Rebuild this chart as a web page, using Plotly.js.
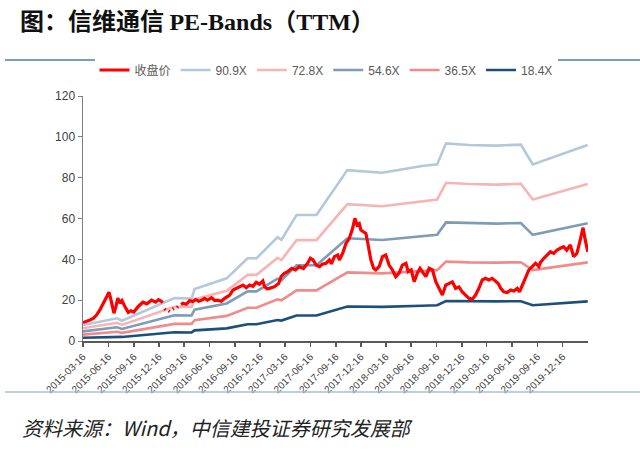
<!DOCTYPE html>
<html>
<head>
<meta charset="utf-8">
<script src="https://cdn.plot.ly/plotly-3.0.1.min.js"></script>
<style>
  html, body { margin: 0; padding: 0; background: #fff; }
  #chart { width: 640px; height: 458px; }
</style>
</head>
<body>
<div id="chart"></div>
<script>
"use strict";

// PE band breakpoints
var bandDates = ["2015-03-16", "2015-07-17", "2015-08-04", "2016-02-10", "2016-04-12", "2016-04-23",
    "2016-08-17", "2016-11-01", "2016-12-03", "2017-02-17", "2017-03-03", "2017-04-27", "2017-07-08",
    "2017-10-28", "2018-03-03", "2018-07-25", "2018-09-18", "2018-10-20", "2019-01-11", "2019-04-22",
    "2019-07-18", "2019-08-30", "2020-03-16"];
var band909 = [7.8, 11.1, 9.9, 21.0, 20.8, 25.5, 30.7, 40.5, 40.5, 50.8, 49.5, 61.7, 61.7,
    83.7, 82.4, 85.7, 86.5, 96.8, 96.0, 95.7, 96.2, 86.5, 96.0];
var band728 = [6.2, 8.9, 7.9, 16.8, 16.7, 20.4, 24.6, 32.4, 32.4, 40.7, 39.6, 49.4, 49.4,
    67.0, 66.0, 68.6, 69.3, 77.5, 76.9, 76.6, 77.0, 69.3, 76.9];
var band546 = [4.7, 6.7, 5.9, 12.6, 12.5, 15.3, 18.4, 24.3, 24.3, 30.5, 29.7, 37.1, 37.1,
    50.3, 49.5, 51.5, 52.0, 58.1, 57.7, 57.5, 57.8, 52.0, 57.7];
var band365 = [3.1, 4.5, 4.0, 8.4, 8.4, 10.2, 12.3, 16.3, 16.3, 20.4, 19.9, 24.8, 24.8,
    33.6, 33.1, 34.4, 34.7, 38.9, 38.5, 38.4, 38.6, 34.7, 38.5];
var band184 = [1.6, 2.2, 2.0, 4.3, 4.2, 5.2, 6.2, 8.2, 8.2, 10.3, 10.0, 12.5, 12.5,
    16.9, 16.7, 17.3, 17.5, 19.6, 19.4, 19.4, 19.5, 17.5, 19.4];

// closing price
var priceDates = ["2015-03-16", "2015-03-29", "2015-04-10", "2015-04-22", "2015-05-04", "2015-05-16",
    "2015-05-28", "2015-06-10", "2015-06-18", "2015-06-24", "2015-06-30", "2015-07-06", "2015-07-13",
    "2015-07-20", "2015-07-28", "2015-08-04", "2015-08-15", "2015-08-27", "2015-09-05", "2015-09-16",
    "2015-10-01", "2015-10-19", "2015-11-02", "2015-11-19", "2015-12-04", "2015-12-14", "2015-12-24",
    "2015-12-30", "2016-01-02", "2016-01-05", "2016-01-09", "2016-01-13", "2016-01-20", "2016-01-24",
    "2016-01-28", "2016-02-04", "2016-02-08", "2016-02-12", "2016-02-19", "2016-02-23", "2016-02-27",
    "2016-03-05", "2016-03-12", "2016-03-24", "2016-04-05", "2016-04-16", "2016-04-27", "2016-05-08",
    "2016-05-19", "2016-05-29", "2016-06-09", "2016-06-23", "2016-07-05", "2016-07-16", "2016-07-29",
    "2016-08-10", "2016-08-28", "2016-09-09", "2016-09-21", "2016-10-03", "2016-10-15", "2016-10-27",
    "2016-11-08", "2016-11-20", "2016-12-02", "2016-12-14", "2016-12-26", "2017-01-01", "2017-01-10",
    "2017-01-19", "2017-01-30", "2017-02-06", "2017-02-21", "2017-03-02", "2017-03-14", "2017-03-26",
    "2017-04-10", "2017-04-23", "2017-05-07", "2017-05-22", "2017-06-06", "2017-06-16", "2017-06-25",
    "2017-07-07", "2017-07-19", "2017-07-29", "2017-08-12", "2017-08-24", "2017-08-31", "2017-09-11",
    "2017-09-23", "2017-09-29", "2017-10-11", "2017-10-23", "2017-11-04", "2017-11-16", "2017-11-24",
    "2017-12-02", "2017-12-10", "2017-12-16", "2017-12-25", "2018-01-03", "2018-01-09", "2018-01-15",
    "2018-01-21", "2018-01-31", "2018-02-08", "2018-02-20", "2018-03-04", "2018-03-16", "2018-03-28",
    "2018-04-09", "2018-04-21", "2018-05-03", "2018-05-15", "2018-05-28", "2018-06-05", "2018-06-16",
    "2018-06-27", "2018-07-08", "2018-07-18", "2018-07-26", "2018-08-08", "2018-08-20", "2018-09-01",
    "2018-09-13", "2018-09-25", "2018-10-07", "2018-10-19", "2018-10-31", "2018-11-12", "2018-11-24",
    "2018-12-06", "2018-12-18", "2018-12-30", "2019-01-11", "2019-01-23", "2019-02-04", "2019-02-16",
    "2019-02-28", "2019-03-12", "2019-03-24", "2019-04-05", "2019-04-17", "2019-04-27", "2019-05-06",
    "2019-05-17", "2019-05-29", "2019-06-11", "2019-06-23", "2019-07-05", "2019-07-13", "2019-07-23",
    "2019-08-04", "2019-08-16", "2019-08-28", "2019-09-09", "2019-09-21", "2019-09-27", "2019-10-09",
    "2019-10-21", "2019-11-02", "2019-11-14", "2019-11-26", "2019-12-08", "2019-12-20", "2019-12-31",
    "2020-01-13", "2020-01-25", "2020-02-06", "2020-02-18", "2020-02-28", "2020-03-07", "2020-03-16"];
var priceValues = [9.0, 9.5, 10.3, 11.1, 12.7, 15.2,
    18.5, 21.7, 23.9, 20.9, 16.8, 13.6, 16.8,
    21.0, 18.5, 19.8, 16.8, 14.0, 14.8, 14.2,
    16.8, 19.0, 18.2, 20.0, 19.0, 20.2, 19.5,
    18.8, null, 15.8, 15.2, null, 14.8, 14.4,
    null, 15.6, 16.0, null, 16.4, 16.9, null,
    17.8, 18.5, 18.0, 19.8, 19.3, 20.3, 19.5,
    20.0, 20.9, 20.0, 21.2, 19.8, 20.0, 19.5,
    20.9, 22.5, 25.0, 25.8, 26.6, 27.4, 26.1,
    27.4, 26.8, 28.7, 27.8, 29.4, 26.6, 25.6,
    25.8, 26.4, 26.6, 28.2, 31.5, 33.2, 34.0,
    35.6, 34.8, 36.4, 35.5, 38.1, 40.5, 39.8,
    37.2, 36.4, 37.6, 38.1, 39.7, 37.8, 41.3,
    42.1, 39.7, 43.0, 47.8, 50.3, 55.2, 60.1,
    56.8, 57.5, 54.4, 53.5, 52.7, 48.6, 44.6,
    39.7, 35.6, 34.8, 36.4, 41.3, 42.1, 37.2,
    34.8, 31.5, 33.2, 37.2, 38.1, 34.0, 34.8,
    29.0, 33.2, 35.6, 34.0, 31.5, 35.6, 34.8,
    29.0, 25.8, 22.5, 27.4, 28.2, 29.0, 25.8,
    26.5, 24.0, 22.5, 20.9, 20.5, 22.5, 25.8,
    29.9, 30.7, 29.9, 30.7, 29.5, 28.2, 25.8,
    24.1, 23.7, 25.0, 24.5, 25.8, 24.1, 27.4,
    30.7, 34.8, 36.4, 38.1, 36.4, 38.5, 40.5,
    42.1, 43.7, 42.9, 44.6, 45.4, 46.2, 44.5,
    47.0, 41.3, 43.0, 49.5, 55.5, 49.5, 43.7];

var xTickLabels = ["2015-03-16", "2015-06-16", "2015-09-16", "2015-12-16", "2016-03-16", "2016-06-16",
    "2016-09-16", "2016-12-16", "2017-03-16", "2017-06-16", "2017-09-16", "2017-12-16", "2018-03-16",
    "2018-06-16", "2018-09-16", "2018-12-16", "2019-03-16", "2019-06-16", "2019-09-16", "2019-12-16"];

function band(name, values, color, rank) {
    return {
        x: bandDates, y: values, name: name, type: "scatter", mode: "lines",
        line: {color: color, width: 2.6}, legendrank: rank
    };
}

// bands first, price drawn last (on top) but listed first in the legend
var data = [
    band("90.9X", band909, "#b3c8da", 2),
    band("72.8X", band728, "#f7b4b4", 3),
    band("54.6X", band546, "#7c9cb7", 4),
    band("36.5X", band365, "#f28a8a", 5),
    band("18.4X", band184, "#1d4f7c", 6),
    {
        x: priceDates, y: priceValues, name: "收盘价", type: "scatter", mode: "lines",
        connectgaps: false, line: {color: "#ff0000", width: 3.2}, legendrank: 1
    }
];

// helpers to place things in picture pixels
var L = 83, R = 588, T = 96, B = 341;
function px(x) { return (x - L) / (R - L); }
function py(y) { return (B - y) / (B - T); }

var layout = {
    width: 640, height: 458,
    margin: {l: L, r: 640 - R, t: T, b: 458 - B},
    paper_bgcolor: "#fff", plot_bgcolor: "#fff",
    font: {family: "Liberation Sans, Arial, sans-serif", color: "#404040"},
    title: {
        text: "<b>图：信维通信 <span style='font-family:Liberation Serif'>PE-Bands</span>（<span style='font-family:Liberation Serif'>TTM</span>）</b>",
        font: {family: "Noto Sans CJK SC", size: 24, color: "#111"},
        xref: "container", yref: "container", x: 20 / 640, xanchor: "left",
        y: 1 - 22 / 458, yanchor: "middle"
    },
    showlegend: true,
    legend: {
        orientation: "h", x: px(326), xanchor: "center", y: py(70), yanchor: "middle",
        font: {size: 12, color: "#595959", family: "Liberation Sans, Noto Sans CJK SC"},
        traceorder: "normal", itemwidth: 30, tracegroupgap: 0
    },
    xaxis: {
        type: "date", range: ["2015-03-16", "2020-03-17"],
        tickvals: xTickLabels, ticktext: xTickLabels, tickangle: -45,
        tickfont: {size: 10, color: "#404040"},
        showline: true, linecolor: "#595959", linewidth: 2,
        ticks: "outside", ticklen: 4, tickcolor: "#595959", tickwidth: 1.5,
        showgrid: false, zeroline: false, fixedrange: true
    },
    yaxis: {
        range: [0, 120], dtick: 20, tickfont: {size: 12, color: "#404040"},
        showline: true, linecolor: "#7f7f7f", linewidth: 1.5,
        ticks: "outside", ticklen: 4, tickcolor: "#7f7f7f",
        showgrid: false, zeroline: false, fixedrange: true
    },
    shapes: [
        {type: "line", xref: "paper", yref: "paper", x0: px(5), x1: px(640), y0: py(60), y1: py(60),
            line: {color: "#4f7ba6", width: 1.5}},
        {type: "line", xref: "paper", yref: "paper", x0: px(5), x1: px(640), y0: py(392), y1: py(392),
            line: {color: "#a8bfd2", width: 1.5}}
    ],
    annotations: [
        {xref: "paper", yref: "paper", x: px(20), y: py(427), xanchor: "left", yanchor: "middle",
            showarrow: false, text: "<i>资料来源：Wind，中信建投证券研究发展部</i>",
            font: {family: "Noto Sans CJK SC", size: 20, color: "#222"}}
    ]
};

Plotly.newPlot("chart", data, layout, {displayModeBar: false, staticPlot: true});
</script>
</body>
</html>
